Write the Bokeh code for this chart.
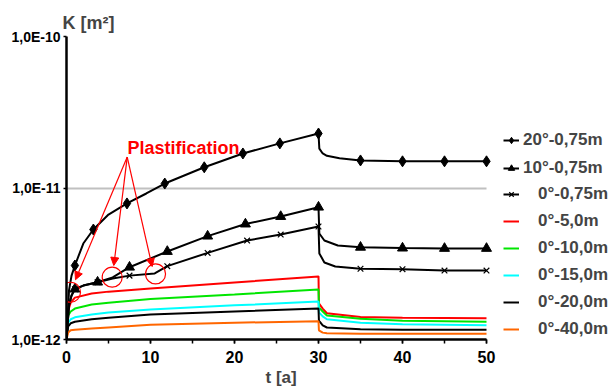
from bokeh.plotting import figure
from bokeh.models import (Legend, LegendItem, Label, Arrow, NormalHead, FixedTicker,
                          SingleIntervalTicker, Range1d, Title)
from bokeh.embed import file_html
from bokeh.resources import INLINE

FONT = "Liberation Sans"

# ---------------- data ----------------
# 20°-0,75m (diamonds)
t_20 = [0, 0.3, 0.6, 1, 2, 3.2, 5, 7.2, 9.5, 11.7, 16.4, 21, 25.4, 30,
        30.1, 30.5, 31, 32.5, 35, 40, 45, 50]
K_20 = [1.0e-12, 2.11e-12, 2.64e-12, 3.08e-12, 4.30e-12, 5.32e-12, 6.68e-12, 7.91e-12,
        9.20e-12, 1.07e-11, 1.37e-11, 1.69e-11, 1.97e-11, 2.29e-11,
        1.82e-11, 1.69e-11, 1.63e-11, 1.57e-11, 1.52e-11, 1.50e-11, 1.50e-11, 1.50e-11]
tm_20 = [1, 3.2, 7.2, 11.7, 16.4, 21, 25.4, 30, 35, 40, 45, 50]
Km_20 = [3.08e-12, 5.32e-12, 7.91e-12, 1.07e-11, 1.37e-11, 1.69e-11, 1.97e-11, 2.29e-11,
         1.52e-11, 1.50e-11, 1.50e-11, 1.50e-11]

# 10°-0,75m (triangles)
t_10 = [0, 0.3, 0.6, 1, 2, 3.7, 5.5, 7.5, 12, 16.8, 21.3, 25.5, 30,
        30.1, 30.7, 32.3, 35, 40, 45, 50]
K_10 = [1.0e-12, 1.68e-12, 1.95e-12, 2.15e-12, 2.27e-12, 2.39e-12, 2.57e-12, 3.00e-12,
        3.81e-12, 4.81e-12, 5.78e-12, 6.48e-12, 7.47e-12,
        5.01e-12, 4.50e-12, 4.17e-12, 4.06e-12, 4.01e-12, 3.99e-12, 3.99e-12]
tm_10 = [1, 3.7, 7.5, 12, 16.8, 21.3, 25.5, 30, 35, 40, 45, 50]
Km_10 = [2.15e-12, 2.39e-12, 3.00e-12, 3.81e-12, 4.81e-12, 5.78e-12, 6.48e-12, 7.47e-12,
         4.06e-12, 4.01e-12, 3.99e-12, 3.99e-12]

# 0°-0,75m (crosses)
t_0 = [0, 0.3, 0.6, 1, 2, 3.7, 5.5, 7.5, 10.5, 12, 16.8, 21.5, 25.5, 30,
       30.1, 30.7, 32, 35, 40, 45, 50]
K_0 = [1.0e-12, 1.68e-12, 1.95e-12, 2.15e-12, 2.27e-12, 2.39e-12, 2.53e-12, 2.64e-12,
       2.73e-12, 3.05e-12, 3.73e-12, 4.50e-12, 4.93e-12, 5.57e-12,
       3.70e-12, 3.22e-12, 3.03e-12, 2.93e-12, 2.91e-12, 2.85e-12, 2.85e-12]
tm_0 = [1, 3.7, 7.5, 12, 16.8, 21.5, 25.5, 30, 35, 40, 45, 50]
Km_0 = [2.15e-12, 2.39e-12, 2.64e-12, 3.05e-12, 3.73e-12, 4.50e-12, 4.93e-12, 5.57e-12,
        2.93e-12, 2.91e-12, 2.85e-12, 2.85e-12]

# deeper points (no markers)
t_deep = [0, 0.2, 0.5, 1, 3, 5, 10, 20, 30, 30.05, 30.5, 31, 35, 40, 50]
K_5 = [1.0e-12, 1.55e-12, 1.75e-12, 1.89e-12, 2.01e-12, 2.07e-12, 2.17e-12, 2.38e-12,
       2.61e-12, 1.73e-12, 1.60e-12, 1.49e-12, 1.41e-12, 1.39e-12, 1.38e-12]
K_10m = [1.0e-12, 1.44e-12, 1.53e-12, 1.60e-12, 1.70e-12, 1.75e-12, 1.85e-12, 1.98e-12,
         2.14e-12, 1.63e-12, 1.53e-12, 1.44e-12, 1.37e-12, 1.33e-12, 1.31e-12]
K_15m = [1.0e-12, 1.29e-12, 1.36e-12, 1.40e-12, 1.46e-12, 1.51e-12, 1.58e-12, 1.68e-12,
         1.78e-12, 1.51e-12, 1.42e-12, 1.36e-12, 1.29e-12, 1.26e-12, 1.24e-12]
K_20m = [1.0e-12, 1.22e-12, 1.28e-12, 1.31e-12, 1.36e-12, 1.39e-12, 1.46e-12, 1.53e-12,
         1.60e-12, 1.33e-12, 1.24e-12, 1.20e-12, 1.17e-12, 1.16e-12, 1.16e-12]
K_40m = [1.0e-12, 1.11e-12, 1.15e-12, 1.16e-12, 1.18e-12, 1.20e-12, 1.25e-12, 1.29e-12,
         1.32e-12, 1.15e-12, 1.11e-12, 1.10e-12, 1.09e-12, 1.09e-12, 1.09e-12]

labels = ["20°-0,75m", "10°-0,75m", "0°-0,75m", "0°-5,0m",
          "0°-10,0m", "0°-15,0m", "0°-20,0m", "0°-40,0m"]
y_ticks = [1e-12, 1e-11, 1e-10]
y_tick_labels = ["1,0E-12", "1,0E-11", "1,0E-10"]
t_axis = (0, 50)

# plastification markers
circ_t = [0.48, 5.44, 10.6]
circ_K = [2.05e-12, 2.58e-12, 2.71e-12]
arrow_start = (7.23, 1.60e-11)
arrow_ends = [(1.07, 2.48e-12), (5.63, 3.08e-12), (10.2, 3.03e-12)]

# ---------------- figure ----------------
W, H = 609, 388
LEFT, RIGHT_AXIS_END = 66, 486          # pixel extent of the 0..50 axis
x_end = t_axis[1] * (W - LEFT) / (RIGHT_AXIS_END - LEFT)  # frame reaches the page edge (legend room)

p = figure(width=W, height=H, y_axis_type="log",
           x_range=Range1d(0, x_end), y_range=Range1d(1e-12, 1e-10),
           output_backend="svg", toolbar_location=None,
           min_border_left=LEFT, min_border_right=0, min_border_top=36, min_border_bottom=49)
p.outline_line_color = None
p.background_fill_color = "white"

p.title.text = "K [m²]"
p.title.text_font = FONT
p.title.text_font_style = "bold"
p.title.text_font_size = "18px"
p.title.align = "left"
p.title.offset = -4
p.title.standoff = 8

# axes
p.xaxis.ticker = SingleIntervalTicker(interval=10, num_minor_ticks=2)
p.xaxis.bounds = t_axis
p.yaxis.ticker = FixedTicker(ticks=y_ticks)
p.yaxis.major_label_overrides = {v: s for v, s in zip(y_ticks, y_tick_labels)}
for ax in (p.xaxis[0], p.yaxis[0]):
    ax.axis_line_color = "black"
    ax.axis_line_width = 2.5
    ax.major_tick_line_color = "black"
    ax.major_tick_line_width = 1.5
    ax.major_tick_in = 0
    ax.major_label_text_font = FONT
    ax.major_label_text_font_style = "bold"
    ax.major_label_text_color = "black"
p.xaxis.major_tick_out = 4
p.xaxis.minor_tick_out = 4
p.xaxis.minor_tick_in = 0
p.xaxis.minor_tick_line_color = "black"
p.xaxis.minor_tick_line_width = 1.5
p.xaxis.major_label_text_font_size = "16px"
p.xaxis.major_label_standoff = 7
p.yaxis.major_tick_out = 3
p.yaxis.minor_tick_line_color = None
p.yaxis.major_label_text_font_size = "14px"
p.yaxis.major_label_standoff = 3

# x axis title, centred under the 0..50 axis
p.add_layout(Title(text="t [a]", align="left", offset=199, standoff=0,
                   text_font=FONT, text_font_style="bold", text_font_size="17px"), "below")

p.xgrid.visible = False
p.ygrid.grid_line_color = "#c0c0c0"
p.ygrid.grid_line_width = 2
if "cross_bounds" in p.ygrid[0].properties():
    p.ygrid.cross_bounds = t_axis

# deeper lines
cols = ["#ff0000", "#00e600", "#00ffff", "#000000", "#ff6600"]
deep = [K_5, K_10m, K_15m, K_20m, K_40m]
deep_r = []
for K, c in zip(deep, cols):
    deep_r.append(p.line(t_deep, K, line_color=c, line_width=2))

# marker series
l20 = p.line(t_20, K_20, line_color="black", line_width=2)
l10 = p.line(t_10, K_10, line_color="black", line_width=2)
l0 = p.line(t_0, K_0, line_color="black", line_width=2)
m0 = p.scatter(tm_0, Km_0, marker="x", size=8, line_color="black", line_width=1.2)
m10 = p.scatter(tm_10, Km_10, marker="triangle", size=10, fill_color="black", line_color="black")
m20 = p.scatter(tm_20, Km_20, marker="diamond", size=11,
                fill_color="black", line_color="black")

# plastification annotation
p.scatter(circ_t, circ_K, marker="circle", size=20, fill_color=None,
          line_color="red", line_width=1.2)
for xe, ye in arrow_ends:
    p.add_layout(Arrow(end=NormalHead(size=8, fill_color="red", line_color="red"),
                       x_start=arrow_start[0], y_start=arrow_start[1], x_end=xe, y_end=ye,
                       line_color="red", line_width=1.2))
p.add_layout(Label(x=7.26, y=1.85e-11, text="Plastification", text_color="red",
                   text_font=FONT, text_font_style="bold", text_font_size="18px",
                   text_baseline="alphabetic"))

# legends (inside the wide frame, right of the 0..50 axis)
common = dict(border_line_color=None, background_fill_alpha=0, padding=0, margin=0,
              glyph_height=20, glyph_width=16, label_height=20,
              label_text_font=FONT, label_text_font_style="bold", label_text_font_size="17px")
leg1 = Legend(items=[LegendItem(label=labels[0], renderers=[l20, m20]),
                     LegendItem(label=labels[1], renderers=[l10, m10])],
              location=(437, 161), label_standoff=4, spacing=8, **common)
leg2 = Legend(items=[LegendItem(label=labels[2], renderers=[l0, m0])] +
                    [LegendItem(label=lab, renderers=[r]) for lab, r in zip(labels[3:], deep_r)],
              location=(437, 0), label_standoff=19, spacing=7, **common)
p.add_layout(leg1, "center")
p.add_layout(leg2, "center")

open("out.html", "w").write(file_html(p, INLINE))
